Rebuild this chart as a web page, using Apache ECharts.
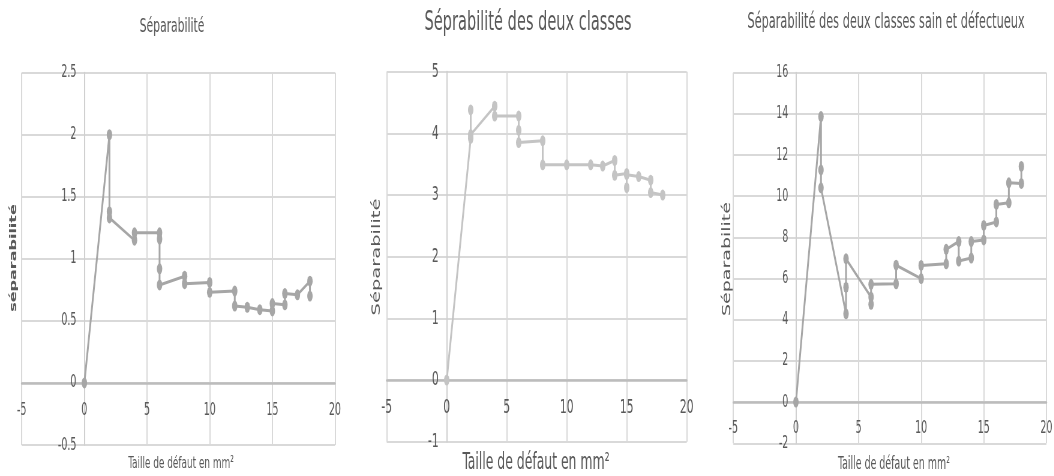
<!DOCTYPE html>
<html>
<head>
<meta charset="utf-8">
<script src="https://cdn.jsdelivr.net/npm/echarts@6/dist/echarts.min.js"></script>
<style>
html,body{margin:0;padding:0;background:#fff;overflow:hidden;}
#wrap{position:absolute;left:0;top:0;width:1054px;height:476px;overflow:hidden;}
#c{position:absolute;left:0;top:0;height:476px;transform-origin:0 0;}
</style>
</head>
<body>
<div id="wrap"><div id="c"></div></div>
<script>
// ---- data ----
const titles = ["Séparabilité", "Séprabilité des deux classes", "Séparabilité des deux classes sain et défectueux"];
const yNames = ["séparabilité", "Séparabilité", "Séparabilité"];
const xName = "Taille de défaut en mm²";

const sizes1 = [0, 2, 2, 2, 4, 4, 6, 6, 6, 6, 8, 8, 10, 10, 12, 12, 13, 14, 15, 15, 16, 16, 17, 18, 18];
const sep1   = [0, 2.0, 1.38, 1.33, 1.15, 1.21, 1.21, 1.16, 0.92, 0.79, 0.86, 0.80, 0.81, 0.73, 0.74, 0.62, 0.61, 0.59, 0.58, 0.64, 0.63, 0.72, 0.71, 0.82, 0.70];

const sizes2 = [0, 2, 2, 2, 4, 4, 6, 6, 6, 8, 8, 10, 12, 13, 14, 14, 15, 15, 15, 16, 17, 17, 18];
const sep2   = [0, 3.92, 4.38, 3.98, 4.44, 4.28, 4.28, 4.05, 3.85, 3.88, 3.49, 3.49, 3.49, 3.47, 3.56, 3.32, 3.35, 3.12, 3.33, 3.30, 3.24, 3.04, 3.0];

const sizes3 = [0, 2, 2, 2, 4, 4, 4, 6, 6, 6, 8, 8, 10, 10, 12, 12, 13, 13, 14, 14, 15, 15, 16, 16, 17, 17, 18, 18];
const sep3   = [0, 13.87, 11.28, 10.41, 4.29, 5.58, 6.96, 5.1, 4.75, 5.72, 5.75, 6.65, 6.0, 6.64, 6.72, 7.42, 7.8, 6.85, 7.0, 7.8, 7.88, 8.58, 8.75, 9.6, 9.68, 10.65, 10.62, 11.45];

const xRange = [-5, 20, 5];
const yRange1 = [-0.5, 2.5, 0.5];
const yRange2 = [-1, 5, 1];
const yRange3 = [-2, 16, 2];

// ---- layout (the reference picture is horizontally condensed) ----
const K = 0.6;               // horizontal squeeze of the whole figure
const W = 1054, H = 476;
const el = document.getElementById('c');
el.style.width = (W / K) + 'px';
el.style.transform = 'scaleX(' + K + ')';

const FONT = "'DejaVu Sans Condensed','DejaVu Sans',sans-serif";
const TXT = '#595959';
const GRIDC = '#d9d9d9';
const sx = v => v / K;

function pairs(xs, ys) { return xs.map((x, i) => [x, ys[i]]); }

// plot boxes in picture pixels: [left, right, top, bottom]
const boxes = [[21.7, 335, 72.7, 445], [386.7, 686.7, 71.7, 441.7], [733.3, 1048.3, 72.7, 443.3]];
const grids = boxes.map(b => ({left: sx(b[0]), width: sx(b[1] - b[0]), top: b[2], height: b[3] - b[2]}));
const yRanges = [yRange1, yRange2, yRange3];
const lineColors = ['#a6a6a6', '#c4c4c4', '#a6a6a6'];
const tickFont = [17.5, 20, 17.5];
const xLabelMargin = [19, 18, 17];

const xAxes = grids.map((g, i) => {
  const r = yRanges[i];
  return {
    type: 'value', gridIndex: i, min: xRange[0], max: xRange[1], interval: xRange[2],
    position: 'bottom',
    offset: -g.height * (0 - r[0]) / (r[1] - r[0]),
    axisLine: {show: true, onZero: false, lineStyle: {color: '#bcbcbc', width: 2.5}},
    axisTick: {show: false},
    axisLabel: {color: TXT, fontFamily: FONT, fontSize: tickFont[i], margin: xLabelMargin[i], showMinLabel: true, showMaxLabel: true},
    splitLine: {show: true, lineStyle: {color: GRIDC, width: 2}}
  };
});
const yAxes = grids.map((g, i) => ({
  type: 'value', gridIndex: i, min: yRanges[i][0], max: yRanges[i][1], interval: yRanges[i][2],
  position: 'left',
  offset: -g.width * (0 - xRange[0]) / (xRange[1] - xRange[0]),
  axisLine: {show: true, onZero: false, lineStyle: {color: '#d0d0d0', width: 2}},
  axisTick: {show: false},
  axisLabel: {color: TXT, fontFamily: FONT, fontSize: tickFont[i], margin: sx(8), showMinLabel: true, showMaxLabel: true},
  splitLine: {show: true, lineStyle: {color: GRIDC, width: 2}}
}));

const datasets = [pairs(sizes1, sep1), pairs(sizes2, sep2), pairs(sizes3, sep3)];
const series = datasets.map((d, i) => ({
  type: 'line', xAxisIndex: i, yAxisIndex: i, data: d,
  symbol: 'circle', symbolSize: [9, 11], smooth: false,
  itemStyle: {color: lineColors[i]},
  lineStyle: {color: lineColors[i], width: 3},
  z: 5, animation: false
}));

const titleStyle = [
  {x: 172, y: 27, size: 20},
  {x: 528, y: 23, size: 27},
  {x: 886, y: 23, size: 21}
];
const xNameStyle = [
  {x: 181, y: 464, size: 16.5},
  {x: 536, y: 463, size: 23},
  {x: 894, y: 464, size: 17.5}
];
const yNameStyle = [
  {x: 14, y: 258, size: 16, weight: 'bold'},
  {x: 377, y: 257, size: 19.5, weight: 'normal'},
  {x: 727, y: 259, size: 19, weight: 'normal'}
];

const graphic = [];
titleStyle.forEach((t, i) => graphic.push({
  type: 'text', x: sx(t.x), y: t.y,
  style: {text: titles[i], fill: TXT, font: t.size + 'px ' + FONT, textAlign: 'center', textVerticalAlign: 'middle'}
}));
xNameStyle.forEach((t, i) => graphic.push({
  type: 'text', x: sx(t.x), y: t.y,
  style: {text: xName, fill: TXT, font: t.size + 'px ' + FONT, textAlign: 'center', textVerticalAlign: 'middle'}
}));
yNameStyle.forEach((t, i) => graphic.push({
  type: 'text', x: sx(t.x), y: t.y, rotation: Math.PI / 2,
  style: {text: yNames[i], fill: TXT, font: t.weight + ' ' + t.size + "px 'DejaVu Sans',sans-serif", textAlign: 'center', textVerticalAlign: 'middle'}
}));

const chart = echarts.init(el, null, {renderer: 'canvas'});
chart.setOption({
  animation: false,
  backgroundColor: '#ffffff',
  grid: grids,
  xAxis: xAxes,
  yAxis: yAxes,
  series: series,
  graphic: graphic
});
</script>
</body>
</html>
